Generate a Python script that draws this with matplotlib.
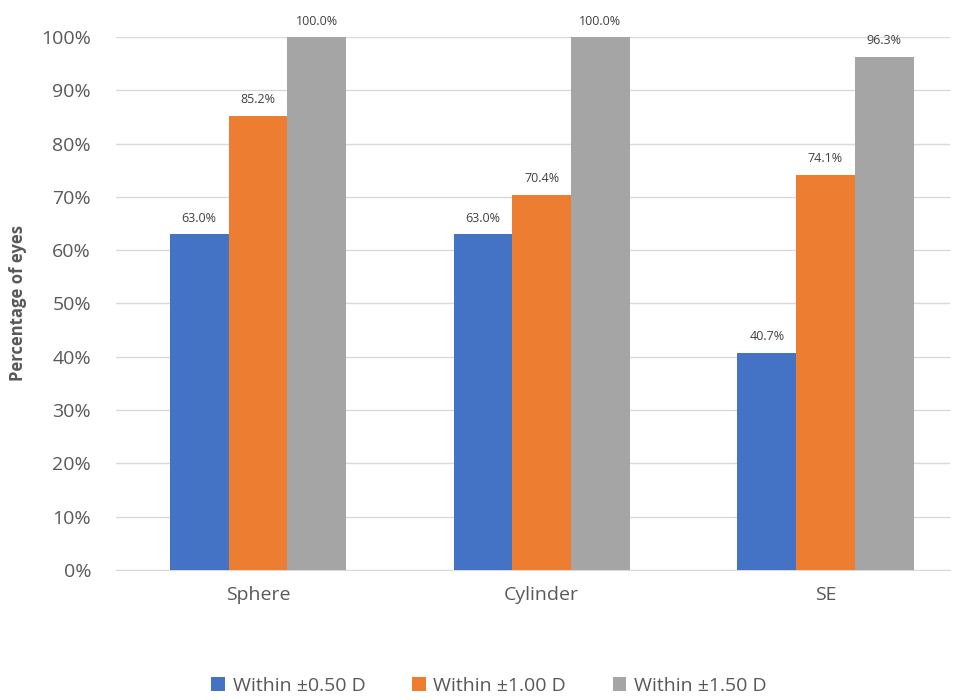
import numpy as np
import matplotlib
matplotlib.use("Agg")
import matplotlib.pyplot as plt
from matplotlib.ticker import PercentFormatter

plt.rcParams["font.family"] = ["Open Sans", "DejaVu Sans"]

categories = ["Sphere", "Cylinder", "SE"]
series_names = ["Within \u00b10.50 D", "Within \u00b11.00 D", "Within \u00b11.50 D"]
within_050 = [63.0, 63.0, 40.7]
within_100 = [85.2, 70.4, 74.1]
within_150 = [100.0, 100.0, 96.3]
colors = ["#4472C4", "#ED7D31", "#A5A5A5"]

text_col = "#595959"
fig = plt.figure(figsize=(9.59, 7.0), dpi=100)
ax = fig.add_axes([0.121, 0.186, 0.87, 0.761])

x = np.arange(len(categories))
w = 0.207
for i, (vals, name, c) in enumerate(zip([within_050, within_100, within_150], series_names, colors)):
    bars = ax.bar(x + (i - 1) * w, vals, w, color=c, label=name, zorder=3)
    for b, v in zip(bars, vals):
        ax.text(b.get_x() + b.get_width() / 2, v + 1.8, f"{v:.1f}%", ha="center", va="bottom",
                fontsize=9, color="#404040")

ax.set_xlim(-0.5, 2.44)
ax.set_ylim(0, 100)
ax.set_yticks(np.arange(0, 101, 10))
ax.yaxis.set_major_formatter(PercentFormatter(decimals=0))
ax.set_xticks(x)
ax.set_xticklabels(categories)
ax.tick_params(axis="both", length=0, labelsize=14, colors=text_col)
ax.tick_params(axis="x", pad=12)
ax.tick_params(axis="y", pad=18)
ax.grid(axis="y", color="#D9D9D9", linewidth=1, zorder=0)
for s in ["top", "right", "left"]:
    ax.spines[s].set_visible(False)
ax.spines["bottom"].set_color("#D9D9D9")
ax.set_ylabel("Percentage of eyes", fontsize=12, fontweight="bold", color=text_col, labelpad=10)

fig.legend(loc="center", bbox_to_anchor=(0.51, 0.02), ncol=3, frameon=False, fontsize=14,
           handlelength=0.7, handleheight=0.7, columnspacing=2.4, handletextpad=0.4,
           labelcolor=text_col)

fig.savefig("out.png", dpi=100)
